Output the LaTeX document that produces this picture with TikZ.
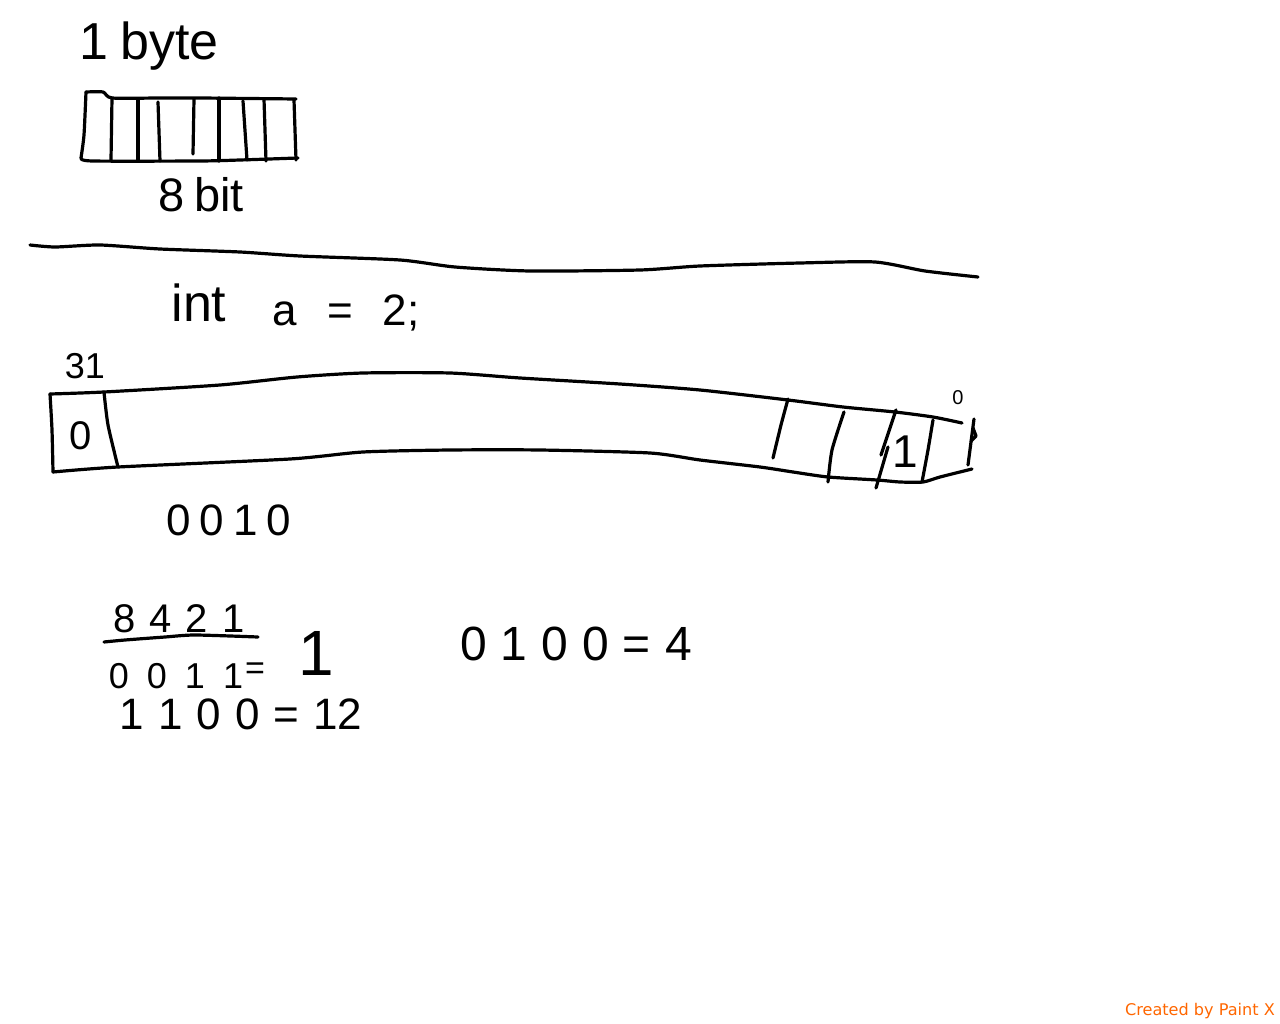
\documentclass[tikz,border=0pt]{standalone}
\usepackage{fontspec}
\setmainfont{Liberation Sans}
\newfontfamily\footfont{DejaVu Sans}
\definecolor{paintorange}{HTML}{FF6600}
\newcommand{\handsize}[2]{\fontsize{#1}{#1}\selectfont\spaceskip=#2pt\relax}

\begin{document}
\begin{tikzpicture}[x=1pt,y=-1pt,
    ink/.style={line width=3.2pt,line cap=round,line join=round},
    hand/.style={inner sep=0pt,anchor=base}]

            \useasboundingbox (0,0) rectangle (1280,1024);

            % one byte
            \node[hand,font=\handsize{52}{12}] (byte) at (149,60) {1 byte};
            \draw[ink] plot[smooth,tension=0.4] coordinates {(86,92) (103,92) (112,98) (160,98) (200,98) (296,99)};
            \draw[ink] plot[smooth,tension=0.4] coordinates {(86,92) (84,135) (81,158)};
            \draw[ink] plot[smooth,tension=0.4] coordinates {(81,158) (92,161) (200,161) (240,160) (298,158)};
            \draw[ink] (112,98) -- (111,160);
            \draw[ink] (138,99) -- (138,160);
            \draw[ink] (158,102) -- (160,161);
            \draw[ink] (194,99) -- (193,154);
            \draw[ink] (219,98) -- (219,161);
            \draw[ink] (243,101) -- (247,160);
            \draw[ink] (264,99) -- (266,161);
            \draw[ink] (294,100) -- (296,160);
            \node[hand,font=\handsize{47}{10}] (bit) at (201,212) {8 bit};

            % divider
            \draw[ink] plot[smooth,tension=0.4] coordinates {(30,245) (55,247) (100,245) (160,249) (240,252) (300,256) (400,260) (455,267) (530,271) (640,270) (700,266) (800,263) (875,262) (925,271) (978,277)};

            % declaration
            \node[hand,font=\handsize{52}{16}] (decltype) at (199,322) {int};
            \node[hand,font=\handsize{44}{30}] (declname) at (346,326) {a = 2;};

            % register
            \node[hand,font=\handsize{36}{2}] (high) at (85,378) {31};
            \draw[ink] plot[smooth,tension=0.4] coordinates {(50,394) (104,392) (220,385) (297,377) (363,373) (450,373) (520,378) (620,384) (700,390) (788,400) (843,407) (895,412) (933,417) (962,423)};
            \draw[ink] plot[smooth,tension=0.4] coordinates {(53,472) (118,467) (290,459) (363,452) (450,450) (540,450) (650,453) (700,460) (760,467) (793,472) (828,477) (877,480) (900,482) (923,482) (940,477) (972,469)};
            \draw[ink] plot[smooth,tension=0.4] coordinates {(50,394) (52,430) (53,472)};
            \draw[ink] plot[smooth,tension=0.4] coordinates {(104,392) (108,425) (118,467)};
            \node[hand,font=\handsize{40}{10}] (signbit) at (81,449) {0};
            \draw[ink] plot[smooth,tension=0.4] coordinates {(788,399) (781,425) (773,458)};
            \draw[ink] plot[smooth,tension=0.4] coordinates {(844,412) (832,450) (828,482)};
            \draw[ink] (896,410) -- (881,455);
            \draw[ink] (888,447) -- (876,488);
            \draw[ink] plot[smooth,tension=0.4] coordinates {(933,420) (928,450) (922,482)};
            \draw[ink] (974,419) -- (968,465);
            \draw[ink] (973,428) -- (976,436) -- (971,441);
            \node[hand,font=\handsize{46}{10}] (setbit) at (905,467) {1};
            \node[hand,font=\handsize{20}{10}] (low) at (958,404) {0};
            \node[hand,font=\handsize{44}{9}] (value) at (229,535) {0 0 1 0};

            % place values
            \node[hand,font=\handsize{40}{14}] (weights) at (179,632) {8 4 2 1};
            \draw[ink] plot[smooth,tension=0.4] coordinates {(104,642) (125,640) (165,637) (195,635) (258,637)};
            \node[hand,font=\handsize{36}{18}] (one) at (176,688) {0 0 1 1};
            \node[hand,font=\handsize{34}{4}] (oneeq) at (255,679) {=};
            \node[hand,font=\handsize{64}{10}] (oneval) at (316,675) {1};
            \node[hand,font=\handsize{44}{14}] (twelve) at (241,729) {1 1 0 0 = 12};
            \node[hand,font=\handsize{48}{14}] (four) at (576,660) {0 1 0 0 = 4};

            \node[inner sep=0pt,anchor=base east,text=paintorange,font=\footfont\fontsize{16.1}{17}\selectfont] (credit) at (1275,1015) {Created by Paint X};

\end{tikzpicture}
\end{document}
